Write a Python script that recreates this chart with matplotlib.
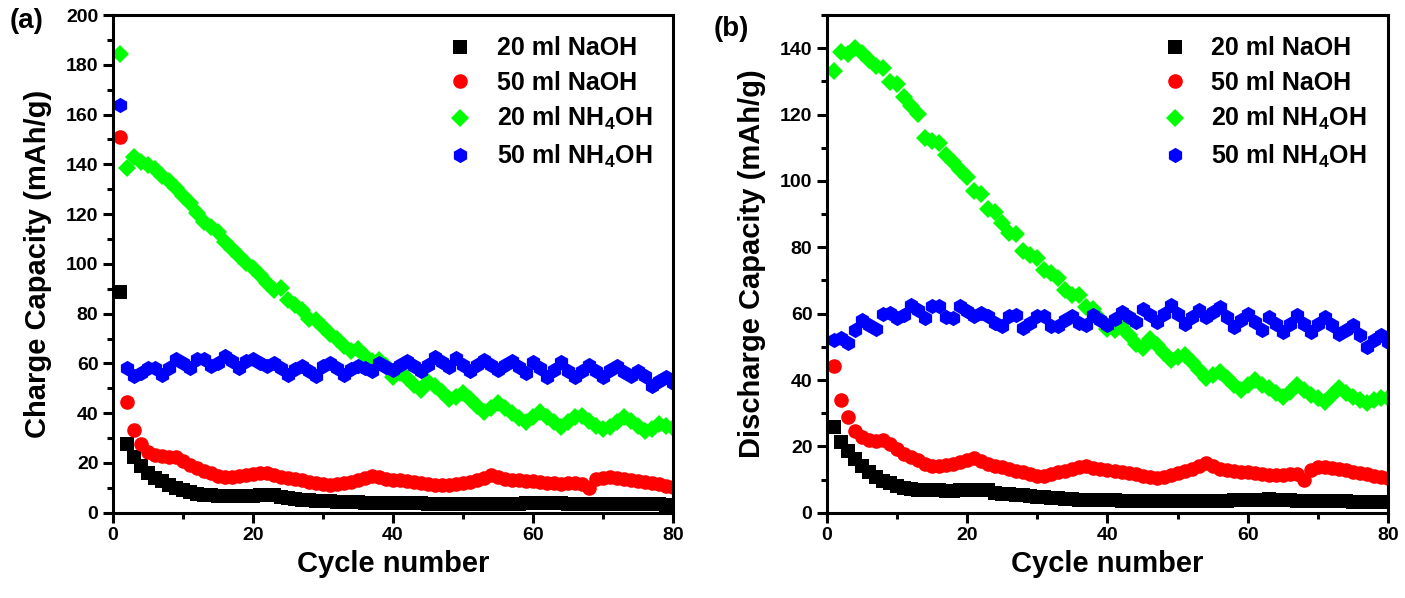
import matplotlib
matplotlib.use("Agg")
import numpy as np
import matplotlib.pyplot as plt
from matplotlib.ticker import MultipleLocator

plt.rcParams['font.family'] = ['Liberation Sans', 'DejaVu Sans']
plt.rcParams['font.weight'] = 'bold'
plt.rcParams['mathtext.fontset'] = 'custom'
plt.rcParams['mathtext.rm'] = 'Liberation Sans:bold'
plt.rcParams['mathtext.bf'] = 'Liberation Sans:bold'
plt.rcParams['mathtext.default'] = 'bf'

cycles = np.arange(1, 81)

labels = ['20 ml NaOH', '50 ml NaOH', '20 ml NH$_4$OH', '50 ml NH$_4$OH']

# charge capacity (mAh/g), one value per cycle
charge_20_naoh = [88.7, 27.8, 22.4, 18.7, 16.0, 13.9, 12.6, 11.2, 10.1, 9.1,
                  8.2, 7.6, 7.2, 7.0, 6.9, 6.9, 6.8, 6.8, 6.9, 6.9,
                  7.0, 7.1, 7.0, 6.2, 5.8, 5.5, 5.3, 5.1, 4.9, 4.7,
                  4.6, 4.5, 4.4, 4.3, 4.2, 4.1, 4.0, 4.0, 3.9, 3.9,
                  3.9, 3.8, 3.8, 3.8, 3.7, 3.7, 3.7, 3.7, 3.7, 3.7,
                  3.7, 3.7, 3.7, 3.7, 3.7, 3.7, 3.7, 3.7, 3.8, 3.8,
                  3.8, 3.8, 3.9, 3.8, 3.7, 3.7, 3.7, 3.6, 3.6, 3.6,
                  3.6, 3.5, 3.5, 3.5, 3.5, 3.4, 3.4, 3.4, 3.3, 3.3]
charge_50_naoh = [151.0, 44.6, 33.3, 27.5, 24.5, 23.3, 22.6, 22.5, 22.4, 20.8,
                  19.3, 17.9, 16.6, 15.8, 14.6, 14.3, 14.5, 14.8, 15.1, 15.5,
                  16.0, 15.8, 15.2, 14.5, 14.0, 13.4, 13.1, 12.5, 12.0, 11.5,
                  11.1, 11.6, 11.9, 12.5, 13.0, 13.8, 14.8, 14.2, 13.6, 13.2,
                  13.0, 12.6, 12.3, 12.0, 11.5, 11.1, 11.0, 11.2, 11.6, 12.0,
                  12.3, 13.0, 13.8, 15.0, 14.2, 13.6, 13.2, 13.0, 12.9, 12.7,
                  12.4, 12.1, 11.8, 11.7, 11.8, 12.0, 11.4, 9.8, 13.5, 14.0,
                  14.3, 14.0, 13.6, 13.2, 12.8, 12.4, 11.9, 11.4, 10.9, 10.5]
charge_20_nh4oh = [184.2, 138.5, 142.9, 140.9, 139.6, 138.2, 135.5, 133.4, 130.6, 127.2,
                   124.5, 120.3, 116.9, 114.9, 112.8, 108.7, 106.0, 103.3, 100.5, 98.5,
                   95.7, 92.3, 89.6, 90.3, 85.5, 83.5, 81.4, 78.0, 77.3, 74.6,
                   71.9, 69.8, 67.0, 65.0, 65.7, 62.9, 60.9, 61.5, 59.0, 54.5,
                   56.0, 54.0, 51.5, 49.5, 52.5, 51.0, 48.5, 45.5, 46.5, 48.0,
                   45.5, 43.0, 40.5, 42.0, 44.0, 42.0, 40.0, 38.0, 36.5, 38.5,
                   40.5, 38.5, 36.5, 34.5, 36.5, 38.5, 39.0, 37.0, 35.0, 33.5,
                   34.5, 36.5, 38.5, 37.0, 35.0, 33.0, 33.5, 35.5, 35.0, 34.0]
charge_50_nh4oh = [164.0, 58.3, 54.8, 56.2, 58.3, 58.3, 55.5, 58.3, 61.7, 60.3,
                   58.3, 61.7, 61.7, 58.9, 60.3, 63.0, 61.0, 58.3, 61.0, 61.7,
                   60.3, 58.9, 60.3, 58.3, 55.5, 57.6, 58.9, 56.9, 54.8, 58.9,
                   60.3, 58.3, 55.5, 57.6, 58.9, 58.3, 56.9, 60.0, 58.5, 57.5,
                   59.5, 61.0, 59.0, 57.0, 59.5, 62.5, 60.5, 58.5, 62.0, 59.5,
                   57.0, 59.5, 61.5, 59.5, 57.5, 59.5, 61.0, 58.5, 56.0, 60.5,
                   58.0, 54.5, 57.5, 60.5, 57.0, 54.5, 57.0, 59.5, 57.0, 54.5,
                   57.5, 59.0, 56.5, 55.0, 57.0, 55.0, 51.0, 53.0, 54.5, 52.0]

# discharge capacity (mAh/g), one value per cycle
discharge_20_naoh = [25.9, 21.3, 18.6, 16.3, 14.2, 12.2, 10.7, 9.7, 8.9, 8.2,
                     7.5, 7.1, 6.8, 6.7, 6.7, 6.7, 6.6, 6.6, 6.7, 6.8,
                     6.9, 6.9, 6.7, 5.9, 5.7, 5.5, 5.3, 5.2, 5.0, 4.7,
                     4.6, 4.5, 4.3, 4.2, 4.0, 3.9, 3.9, 3.8, 3.8, 3.7,
                     3.7, 3.6, 3.6, 3.6, 3.5, 3.5, 3.5, 3.5, 3.5, 3.5,
                     3.5, 3.5, 3.5, 3.6, 3.6, 3.6, 3.6, 3.7, 3.7, 3.8,
                     3.8, 3.9, 4.0, 3.9, 3.8, 3.7, 3.6, 3.6, 3.5, 3.5,
                     3.5, 3.4, 3.4, 3.4, 3.3, 3.3, 3.3, 3.2, 3.2, 3.2]
discharge_50_naoh = [44.3, 34.1, 28.7, 24.6, 22.8, 21.8, 21.5, 21.8, 20.8, 19.3,
                     17.8, 16.8, 15.8, 14.7, 14.2, 14.0, 14.5, 14.7, 15.3, 15.8,
                     16.5, 15.6, 14.7, 14.2, 13.7, 13.2, 12.7, 12.2, 11.7, 11.2,
                     11.0, 11.7, 12.2, 12.7, 13.2, 13.7, 14.2, 13.6, 13.3, 13.0,
                     12.6, 12.2, 11.9, 11.6, 11.2, 10.8, 10.4, 10.8, 11.3, 11.9,
                     12.5, 13.3, 14.2, 15.0, 14.0, 13.3, 12.9, 12.6, 12.4, 12.2,
                     12.0, 11.7, 11.4, 11.3, 11.4, 11.6, 11.8, 10.0, 12.8, 13.8,
                     13.9, 13.6, 13.2, 12.8, 12.4, 12.0, 11.6, 11.2, 10.8, 10.4]
discharge_20_nh4oh = [133.0, 138.8, 138.2, 140.0, 138.5, 136.4, 134.7, 134.0, 129.8, 129.3,
                      125.4, 122.7, 120.1, 113.0, 112.0, 111.4, 107.9, 105.8, 103.3, 101.2,
                      97.1, 96.1, 91.5, 90.5, 87.4, 84.4, 83.9, 79.0, 77.8, 76.7,
                      73.2, 72.1, 70.6, 67.0, 65.5, 65.7, 61.9, 61.5, 58.5, 55.5,
                      55.0, 56.0, 53.5, 51.0, 49.5, 52.5, 50.5, 48.0, 46.0, 47.0,
                      47.5, 45.5, 43.0, 40.5, 41.5, 42.5, 40.5, 38.5, 37.0, 38.5,
                      40.0, 38.5, 37.5, 36.0, 35.0, 36.5, 38.5, 37.0, 35.5, 34.5,
                      33.5, 35.5, 37.5, 36.0, 35.0, 34.0, 33.0, 34.0, 34.5, 34.5]
discharge_50_nh4oh = [52.1, 52.8, 51.3, 55.2, 58.0, 56.7, 55.4, 60.0, 60.2, 58.7,
                      59.7, 62.7, 61.2, 58.7, 62.2, 62.2, 59.0, 58.7, 62.2, 60.7,
                      59.4, 60.2, 59.4, 57.2, 56.2, 59.2, 59.7, 55.7, 57.2, 59.2,
                      59.2, 56.2, 56.2, 58.0, 59.2, 57.2, 56.7, 59.5, 58.0, 56.5,
                      58.5, 60.5, 59.0, 57.5, 61.5, 59.5, 57.5, 60.0, 62.5, 60.0,
                      57.0, 59.0, 61.0, 59.0, 60.5, 62.0, 59.0, 56.0, 58.0, 60.0,
                      57.5, 55.0, 59.0, 57.0, 54.5, 57.0, 59.5, 57.0, 54.5, 57.0,
                      59.0, 56.5, 54.0, 55.0, 56.5, 53.5, 50.0, 52.0, 53.5, 51.5]

colors = ['black', 'red', '#00ff00', 'blue']
markers = ['s', 'o', 'D', 'h']
sizes = [9.5, 10.5, 9.5, 11]

fig = plt.figure(figsize=(14.05, 5.98), dpi=100)
ax1 = fig.add_axes([0.0804, 0.1426, 0.3986, 0.8323])
ax2 = fig.add_axes([0.5886, 0.1426, 0.3993, 0.8323])


def draw_panel(ax, series, ylabel, ymax):
    for y, c, m, s, lab in zip(series, colors, markers, sizes, labels):
        ax.plot(cycles, y, linestyle='none', marker=m, color=c,
                markersize=s, markeredgewidth=0, label=lab)
    ax.set_xlim(0, 80)
    ax.set_ylim(0, ymax)
    ax.xaxis.set_major_locator(MultipleLocator(20))
    ax.xaxis.set_minor_locator(MultipleLocator(10))
    ax.yaxis.set_major_locator(MultipleLocator(20))
    ax.yaxis.set_minor_locator(MultipleLocator(10))
    ax.tick_params(which='major', direction='out', length=7, width=2.2,
                   labelsize=14, top=False, right=False)
    ax.tick_params(which='minor', direction='out', length=4, width=2.2,
                   top=False, right=False)
    for sp in ax.spines.values():
        sp.set_linewidth(2.2)
    for t in ax.get_xticklabels() + ax.get_yticklabels():
        t.set_fontweight('bold')
    ax.set_xlabel('Cycle number', fontsize=21, fontweight='bold', labelpad=4)
    ax.set_ylabel(ylabel, fontsize=21, fontweight='bold', labelpad=10)
    ax.legend(loc='upper left', bbox_to_anchor=(0.56, 1.0), frameon=False,
              fontsize=18, handletextpad=0.95, labelspacing=0.42,
              borderaxespad=0.45, handlelength=1.0)


draw_panel(ax1, [charge_20_naoh, charge_50_naoh, charge_20_nh4oh, charge_50_nh4oh],
           'Charge Capacity (mAh/g)', 200)
draw_panel(ax2, [discharge_20_naoh, discharge_50_naoh, discharge_20_nh4oh, discharge_50_nh4oh],
           'Discharge Capacity (mAh/g)', 150)

# panel tags
fig.text(10 / 1405, 1 - 8 / 598, '(a)', fontsize=20, fontweight='bold',
         va='top', ha='left')
fig.text(714 / 1405, 1 - 16 / 598, '(b)', fontsize=20, fontweight='bold',
         va='top', ha='left')

fig.savefig('out.png', dpi=100)
